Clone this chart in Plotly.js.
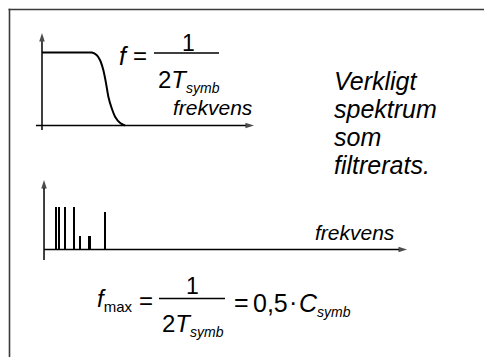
<!DOCTYPE html>
<html><head><meta charset="utf-8">
<script src="https://cdn.plot.ly/plotly-3.0.1.min.js"></script>
<style>html,body{margin:0;padding:0;background:#fff;}#chart{width:484px;height:357px;}</style>
</head><body><div id="chart"></div>
<script>
// Top panel: low-pass filter response (normalised frequency, amplitude)
const filterFreq = [0, 0.10, 0.205, 0.237, 0.260, 0.276, 0.292, 0.305, 0.316, 0.332, 0.348, 0.371, 0.395];
const filterAmp  = [1, 1, 1, 1.0, 0.966, 0.897, 0.760, 0.578, 0.395, 0.236, 0.121, 0.038, 0];
// Bottom panel: spectral lines
const lineFreq = [0.033, 0.042, 0.058, 0.083, 0.099, 0.125, 0.168];
const lineAmp  = [1, 1, 1, 1, 0.32, 0.32, 0.885];
const axisLabel = 'frekvens';
const noteLines = ['Verkligt', 'spektrum', 'som', 'filtrerats.'];

const W = 484, H = 357;
const px = x => x / W;
const py = y => 1 - y / H;
const FONT = 'Liberation Sans, Arial, sans-serif';

function axisLine(xa, ya, x0, y0, x1, y1) {
  return {type: 'scatter', mode: 'lines+markers', x: [x0, x1], y: [y0, y1], xaxis: xa, yaxis: ya,
    line: {color: '#000', width: 1.5}, cliponaxis: false, hoverinfo: 'skip',
    marker: {symbol: 'arrow', angleref: 'previous', size: [0, 9], color: '#000', line: {width: 0}}};
}

const traces = [
  {type: 'scatter', mode: 'lines', x: filterFreq, y: filterAmp, xaxis: 'x', yaxis: 'y',
   line: {color: '#000', width: 2, shape: 'spline', smoothing: 0.6}, hoverinfo: 'skip'},
  {type: 'bar', x: lineFreq, y: lineAmp, xaxis: 'x2', yaxis: 'y2', width: 0.0062,
   marker: {color: '#000', line: {width: 0}}, hoverinfo: 'skip'},
  axisLine('x', 'y', 0, -0.062, 0, 1.267),
  axisLine('x', 'y', -0.029, 0, 1.0095, 0),
  axisLine('x2', 'y2', 0, -0.246, 0, 1.628),
  axisLine('x2', 'y2', 0, 0, 1, 0)
];

function txt(text, x, y, size, xanchor) {
  return {text: text, xref: 'paper', yref: 'paper', x: px(x), y: py(y), showarrow: false,
    xanchor: xanchor || 'center', yanchor: 'middle', font: {family: FONT, size: size, color: '#000'}};
}
const sub = s => '<sub><span style="font-size:14px"><i>' + s + '</i></span></sub>';

const annotations = [
  // axis labels
  txt('<i>' + axisLabel + '</i>', 212.5, 107.5, 21),
  txt('<i>' + axisLabel + '</i>', 355, 232, 21),
  // top formula
  txt('<i>f</i>', 124, 56, 25),
  txt('=', 140, 55, 24),
  txt('1', 188, 43, 23),
  txt('2<i>T</i>' + sub('symb'), 156, 81, 24, 'left'),
  // bottom formula
  txt('<i>f</i><sub><span style="font-size:15px">max</span></sub>', 95, 300, 24, 'left'),
  txt('=', 146, 300, 24),
  txt('1', 192.5, 285.5, 23),
  txt('2<i>T</i>' + sub('symb'), 160, 325, 24, 'left'),
  txt('=', 241.5, 302, 25),
  txt('0,5', 251, 302.5, 25, 'left'),
  txt('·', 293, 302, 25),
  txt('<i>C</i>' + sub('symb'), 297, 304, 25, 'left')
];
noteLines.forEach((t, i) => annotations.push(txt('<i>' + t + '</i>', 332, 81.5 + i * 27.7, 25, 'left')));

const shapes = [
  {type: 'line', xref: 'paper', yref: 'paper', x0: px(8.5), x1: px(484), y0: py(9.5), y1: py(9.5), line: {color: '#3a3a3a', width: 1.6}},
  {type: 'line', xref: 'paper', yref: 'paper', x0: px(9.5), x1: px(9.5), y0: py(8.7), y1: py(357), line: {color: '#3a3a3a', width: 1.6}},
  // fraction bars
  {type: 'line', xref: 'paper', yref: 'paper', x0: px(154), x1: px(219), y0: py(53), y1: py(53), line: {color: '#000', width: 1.4}},
  {type: 'line', xref: 'paper', yref: 'paper', x0: px(159), x1: px(225), y0: py(298.5), y1: py(298.5), line: {color: '#000', width: 1.4}}
];

const hidden = {visible: false, showgrid: false, zeroline: false, fixedrange: true};
const layout = {
  width: W, height: H, margin: {l: 0, r: 0, t: 0, b: 0},
  paper_bgcolor: '#fff', plot_bgcolor: 'rgba(0,0,0,0)', showlegend: false, bargap: 0,
  xaxis: Object.assign({}, hidden, {domain: [px(31.5), px(262.5)], range: [-0.05, 1.05], anchor: 'y'}),
  yaxis: Object.assign({}, hidden, {domain: [py(132.8), py(27)], range: [-0.1, 1.35], anchor: 'x'}),
  xaxis2: Object.assign({}, hidden, {domain: [px(29.5), px(414.3)], range: [-0.04, 1.02], anchor: 'y2'}),
  yaxis2: Object.assign({}, hidden, {domain: [py(262.3), py(174.8)], range: [-0.3, 1.75], anchor: 'x2'}),
  annotations: annotations, shapes: shapes
};
Plotly.newPlot('chart', traces, layout, {staticPlot: true, displayModeBar: false});
</script></body></html>
